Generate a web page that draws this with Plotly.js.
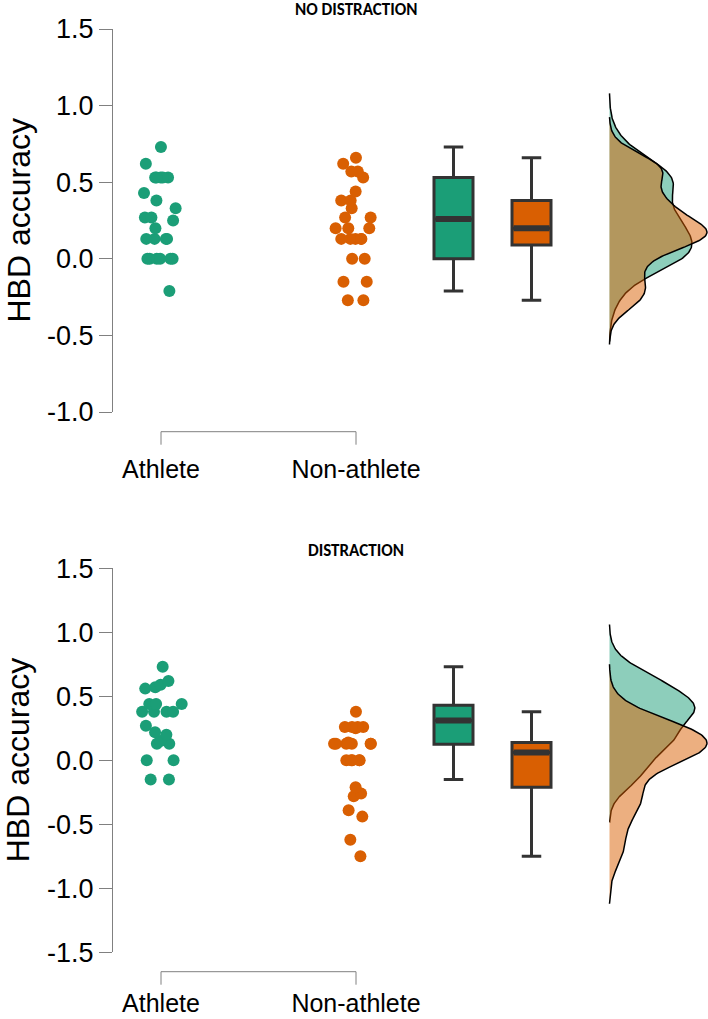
<!DOCTYPE html>
<html><head><meta charset="utf-8">
<script src="https://cdn.plot.ly/plotly-3.0.1.min.js"></script>
<style>html,body{margin:0;padding:0;background:#fff}#chart{width:708px;height:1019px}</style>
</head><body><div id="chart"></div>
<script>
// ---------------- data ----------------
const groups = ['Athlete', 'Non-athlete'];
const panelTitles = ['NO DISTRACTION', 'DISTRACTION'];
const yAxisTitle = 'HBD accuracy';

const athleteNoDistraction = [0.73, 0.62, 0.53, 0.53, 0.53, 0.53, 0.53, 0.43, 0.38, 0.33, 0.27, 0.25, 0.27, 0.20, 0.13, 0.13, 0.13, 0.13, 0, 0, 0, 0, 0, 0, -0.21];
const nonAthleteNoDistraction = [0.66, 0.62, 0.57, 0.57, 0.53, 0.44, 0.38, 0.38, 0.33, 0.27, 0.27, 0.20, 0.20, 0.20, 0.13, 0.13, 0.13, 0.13, 0.13, 0, 0, -0.15, -0.15, -0.27, -0.27];
const athleteDistraction = [0.73, 0.62, 0.59, 0.57, 0.56, 0.44, 0.44, 0.44, 0.38, 0.38, 0.38, 0.38, 0.27, 0.22, 0.20, 0.15, 0.13, 0.13, 0, 0, -0.15, -0.15];
const nonAthleteDistraction = [0.38, 0.25, 0.26, 0.26, 0.26, 0.26, 0.13, 0.14, 0.13, 0.13, 0.13, 0.13, 0.13, 0, 0, 0, 0, 0, -0.21, -0.26, -0.28, -0.39, -0.44, -0.62, -0.75];

// box statistics: [Athlete, Non-athlete]
const lowerNoDistraction  = [-0.21, -0.27];
const q1NoDistraction     = [0.00, 0.09];
const medianNoDistraction = [0.26, 0.20];
const q3NoDistraction     = [0.53, 0.38];
const upperNoDistraction  = [0.73, 0.66];

const lowerDistraction  = [-0.15, -0.75];
const q1Distraction     = [0.125, -0.21];
const medianDistraction = [0.31, 0.06];
const q3Distraction     = [0.43, 0.14];
const upperDistraction  = [0.73, 0.38];

const yTicksTop = [-1.0, -0.5, 0.0, 0.5, 1.0, 1.5];
const yTicksBottom = [-1.5, -1.0, -0.5, 0.0, 0.5, 1.0, 1.5];

// ---------------- styling / layout constants ----------------
const W = 708, H = 1019;
const colors = ['#1b9e77', '#d95f02'];
const fills = ['rgba(27,158,119,0.5)', 'rgba(217,95,2,0.5)'];
const catX = [1, 2];
const boxX = [2.5, 2.9];
const boxW = 0.2;
const densBase = 3.3;
const densW = 0.5;
const xRange = [1 - 48 / 195, 1 + 547 / 195];
const FONT = 'Liberation Sans, Arial, sans-serif';
const TITLE_FONT = 'Carlito, "Liberation Sans Narrow", "DejaVu Sans Condensed", sans-serif';

const py = p => (H - p) / H; // pixel row -> paper y

const panels = [
  { data: [athleteNoDistraction, nonAthleteNoDistraction],
    lower: lowerNoDistraction, q1: q1NoDistraction, median: medianNoDistraction, q3: q3NoDistraction, upper: upperNoDistraction,
    ticks: yTicksTop, pix: [29, 412], bracket: 431.7, labelLen: 35, titlePix: 10 },
  { data: [athleteDistraction, nonAthleteDistraction],
    lower: lowerDistraction, q1: q1Distraction, median: medianDistraction, q3: q3Distraction, upper: upperDistraction,
    ticks: yTicksBottom, pix: [568.3, 952.3], bracket: 971.7, labelLen: 29, titlePix: 550 }
];

// ---------------- density helpers (like R density, bw.nrd0, cut=3) ----------------
function q7(s, p) { const h = (s.length - 1) * p, lo = Math.floor(h); return lo + 1 < s.length ? s[lo] + (h - lo) * (s[lo + 1] - s[lo]) : s[lo]; }
function bwNrd0(x) {
  const n = x.length, m = x.reduce((a, b) => a + b, 0) / n;
  const sd = Math.sqrt(x.reduce((a, b) => a + (b - m) * (b - m), 0) / (n - 1));
  const s = [...x].sort((a, b) => a - b);
  const iqr = q7(s, 0.75) - q7(s, 0.25);
  const lo = Math.min(sd, iqr / 1.34);
  return 0.9 * lo * Math.pow(n, -0.2);
}
function kde(x) {
  const bw = bwNrd0(x), n = x.length;
  const mn = Math.min(...x) - 3 * bw, mx = Math.max(...x) + 3 * bw;
  const ys = [], ds = [];
  const N = 256;
  for (let i = 0; i < N; i++) {
    const y = mn + (mx - mn) * i / (N - 1);
    let s = 0;
    for (const v of x) { const z = (y - v) / bw; s += Math.exp(-0.5 * z * z); }
    ys.push(y); ds.push(s / (n * bw * Math.sqrt(2 * Math.PI)));
  }
  return { ys, ds };
}

// ---------------- build ----------------
const traces = [];
const shapes = [];
const annotations = [];
const layout = {
  width: W, height: H, margin: { l: 0, r: 0, t: 0, b: 0 },
  paper_bgcolor: '#fff', plot_bgcolor: '#fff', showlegend: false, boxmode: 'overlay',
  font: { family: FONT, color: '#000' }
};

panels.forEach((P, pi) => {
  const sfx = pi === 0 ? '' : '2';
  const xa = 'x' + sfx, ya = 'y' + sfx;

  // densities (green first, orange on top)
  const dens = P.data.map(kde);
  const dmax = Math.max(...dens.map(d => Math.max(...d.ds)));
  dens.forEach((d, g) => {
    const xs = [densBase, ...d.ds.map(v => densBase + v / dmax * densW), densBase];
    const ys = [d.ys[0], ...d.ys, d.ys[d.ys.length - 1]];
    traces.push({ type: 'scatter', mode: 'lines', x: xs, y: ys, fill: 'toself', fillcolor: fills[g],
      line: { color: '#000', width: 1.5 }, hoverinfo: 'skip', xaxis: xa, yaxis: ya });
  });

  // jittered points
  P.data.forEach((arr, g) => {
    traces.push({ type: 'box', orientation: 'v', x: arr.map(() => catX[g]), y: arr,
      boxpoints: 'all', jitter: 1, pointpos: 0, width: 0.24,
      fillcolor: 'rgba(0,0,0,0)', line: { width: 0, color: 'rgba(0,0,0,0)' },
      marker: { color: colors[g], size: 12, opacity: 1, line: { width: 0 } },
      hoverinfo: 'skip', xaxis: xa, yaxis: ya });
  });

  // boxplots
  groups.forEach((name, g) => {
    traces.push({ type: 'box', orientation: 'v', x: [boxX[g]],
      q1: [P.q1[g]], median: [P.median[g]], q3: [P.q3[g]],
      lowerfence: [P.lower[g]], upperfence: [P.upper[g]],
      width: boxW, whiskerwidth: 0.5, boxpoints: false,
      fillcolor: colors[g], line: { color: '#333333', width: 3 },
      hoverinfo: 'skip', xaxis: xa, yaxis: ya });
    traces.push({ type: 'scatter', mode: 'lines', x: [boxX[g] - boxW / 2 + 0.008, boxX[g] + boxW / 2 - 0.008],
      y: [P.median[g], P.median[g]], line: { color: '#333333', width: 6 }, hoverinfo: 'skip', xaxis: xa, yaxis: ya });
  });

  const dom = [py(P.pix[1]), py(P.pix[0])];
  layout['xaxis' + sfx] = {
    domain: [113 / W, 1], range: xRange, anchor: ya, showgrid: false, zeroline: false, showline: false,
    tickmode: 'array', tickvals: catX, ticktext: groups, ticks: 'outside', ticklen: P.labelLen,
    tickcolor: 'rgba(0,0,0,0)', tickfont: { size: 25, family: FONT, color: '#000' }, fixedrange: true
  };
  layout['yaxis' + sfx] = {
    domain: dom, range: [P.ticks[0], P.ticks[P.ticks.length - 1]], anchor: xa,
    showgrid: false, zeroline: false, showline: true, linecolor: '#808080', linewidth: 1,
    tickmode: 'array', tickvals: P.ticks, ticktext: P.ticks.map(v => v.toFixed(1)),
    ticks: 'outside', ticklen: 13, tickcolor: '#808080', tickwidth: 1,
    tickfont: { size: 27, family: FONT, color: '#000' }, fixedrange: true
  };

  // x-axis bracket
  const yb = py(P.bracket), yt = py(P.bracket + 13);
  shapes.push({ type: 'path', xref: xa, yref: 'paper',
    path: `M ${catX[0]},${yt} L ${catX[0]},${yb} L ${catX[1]},${yb} L ${catX[1]},${yt}`,
    line: { color: '#808080', width: 1 } });

  annotations.push({ text: '<b>' + panelTitles[pi] + '</b>', xref: 'paper', yref: 'paper',
    x: 356 / W, y: py(P.titlePix), xanchor: 'center', yanchor: 'middle', showarrow: false,
    font: { size: 17, family: TITLE_FONT, color: '#000' } });
  annotations.push({ text: yAxisTitle, textangle: -90, xref: 'paper', yref: 'paper',
    x: 18 / W, y: (dom[0] + dom[1]) / 2, xanchor: 'center', yanchor: 'middle', showarrow: false,
    font: { size: 32, family: FONT, color: '#000' } });
});

layout.shapes = shapes;
layout.annotations = annotations;

Plotly.newPlot('chart', traces, layout, { staticPlot: true, displayModeBar: false });
</script>
</body></html>
